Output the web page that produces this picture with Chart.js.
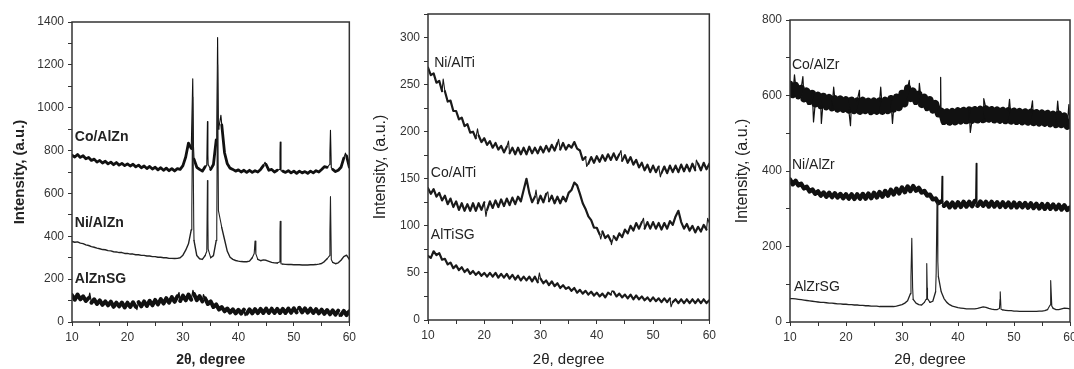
<!DOCTYPE html>
<html>
<head>
<meta charset="utf-8">
<script src="https://cdn.jsdelivr.net/npm/chart.js@4.4.0/dist/chart.umd.min.js"></script>
<style>
  body { margin: 0; background: #fff; width: 1074px; height: 369px; position: relative; overflow: hidden; }
  canvas { position: absolute; top: 0; }
</style>
</head>
<body>
<canvas id="panelZn" width="360" height="369" style="left:0"></canvas>
<canvas id="panelTi" width="360" height="369" style="left:360px"></canvas>
<canvas id="panelZr" width="370" height="369" style="left:714px"></canvas>
<script>
// 2theta grid (degrees), shared by every trace
const twoTheta = [
  10, 10.5, 11, 11.5, 12, 12.5, 13, 13.5, 14, 14.5,
  15, 15.5, 16, 16.5, 17, 17.5, 18, 18.5, 19, 19.5,
  20, 20.5, 21, 21.5, 22, 22.5, 23, 23.5, 24, 24.5,
  25, 25.5, 26, 26.5, 27, 27.5, 28, 28.5, 29, 29.5,
  30, 30.5, 31, 31.5, 32, 32.5, 33, 33.5, 34, 34.5,
  35, 35.5, 36, 36.5, 37, 37.5, 38, 38.5, 39, 39.5,
  40, 40.5, 41, 41.5, 42, 42.5, 43, 43.5, 44, 44.5,
  45, 45.5, 46, 46.5, 47, 47.5, 48, 48.5, 49, 49.5,
  50, 50.5, 51, 51.5, 52, 52.5, 53, 53.5, 54, 54.5,
  55, 55.5, 56, 56.5, 57, 57.5, 58, 58.5, 59, 59.5,
  60
];

// ---- panel 1 : AlZn ----
const coAlZn = [
  778, 770, 782, 768, 776, 762, 768, 754, 760, 746,
  754, 742, 750, 738, 746, 734, 744, 732, 740, 730,
  738, 728, 736, 724, 732, 720, 728, 716, 726, 714,
  722, 710, 720, 708, 718, 706, 716, 705, 716, 712,
  730, 770, 835, 810, 760, 722, 712, 704, 725, 780,
  712, 735, 850, 910, 920, 790, 738, 718, 712, 704,
  710, 700, 708, 698, 708, 698, 706, 700, 712, 730,
  735, 708, 712, 700, 708, 790, 704, 698, 706, 696,
  704, 694, 704, 696, 702, 694, 704, 696, 706, 700,
  712, 725, 722, 790, 712, 702, 708, 722, 765, 775,
  722
];
const coAlZnPeaks = [[31.6, 810], [31.77, 1135], [31.9, 820], [34.3, 730], [34.42, 935], [34.55, 735],
  [36.1, 870], [36.25, 1328], [36.4, 900], [36.85, 965], [44.8, 745],
  [47.4, 712], [47.54, 840], [47.68, 706], [56.45, 735], [56.6, 895], [56.75, 720], [59.3, 788]];

const niAlZn = [
  376, 372, 374, 368, 366, 360, 357, 352, 349, 345,
  342, 338, 337, 333, 332, 328, 327, 324, 324, 320,
  320, 317, 317, 314, 314, 311, 311, 308, 308, 305,
  305, 302, 302, 300, 300, 297, 297, 296, 297, 300,
  312, 335, 365, 430, 380, 310, 295, 292, 310, 480,
  300, 310, 380, 520, 440, 385, 330, 302, 292, 287,
  284, 282, 281, 281, 284, 300, 378, 292, 286, 290,
  288, 283, 278, 276, 275, 420, 270, 269, 268, 268,
  267, 267, 267, 266, 266, 266, 267, 267, 268, 270,
  273, 282, 295, 420, 278, 272, 276, 288, 305, 312,
  292
];
const niAlZnPeaks = [[31.6, 520], [31.77, 1050], [31.95, 450], [34.3, 330], [34.42, 660], [34.55, 340],
  [36.1, 440], [36.25, 1200], [36.4, 520], [36.85, 462], [42.85, 320], [43.15, 318],
  [47.4, 280], [47.54, 470], [47.68, 272], [56.45, 310], [56.6, 585], [56.75, 292]];

const alZnSG = [
  125, 104, 128, 106, 120, 98, 112, 90, 106, 84,
  101, 80, 96, 78, 95, 71, 90, 73, 91, 68,
  90, 70, 92, 71, 93, 73, 96, 75, 99, 78,
  103, 82, 107, 86, 111, 90, 116, 94, 120, 98,
  123, 101, 128, 104, 130, 102, 121, 96, 110, 84,
  96, 70, 82, 58, 70, 50, 63, 44, 59, 40,
  57, 39, 58, 39, 59, 40, 60, 41, 61, 42,
  63, 42, 62, 42, 61, 42, 61, 42, 63, 43,
  64, 45, 66, 45, 64, 44, 62, 42, 60, 40,
  58, 38, 56, 36, 54, 34, 53, 33, 52, 32,
  50
];
const alZnSGSpikes = [[13.2, 135], [21.7, 58], [29.3, 138], [31.8, 148], [33.7, 128], [41.2, 30], [50.8, 72], [58.2, 26]];

// ---- panel 2 : AlTi ----
const niAlTi = [
  268, 260, 262, 252, 254, 243, 243, 232, 233, 222,
  222, 213, 215, 206, 208, 199, 200, 193, 196, 189,
  193, 186, 190, 183, 188, 181, 185, 178, 184, 177,
  183, 176, 183, 176, 183, 176, 184, 177, 183, 177,
  184, 178, 185, 179, 186, 180, 188, 181, 188, 181,
  186, 183, 189, 182, 180, 170, 173, 166, 173, 167,
  174, 168, 175, 169, 176, 170, 177, 170, 176, 169,
  175, 167, 173, 165, 170, 162, 167, 159, 165, 157,
  164, 157, 163, 156, 163, 156, 164, 157, 164, 157,
  165, 158, 165, 158, 166, 159, 166, 159, 167, 160,
  166
];
const niAlTiSpikes = [[12.7, 256], [18.8, 203], [24.3, 190], [33.2, 192], [38.2, 163], [44.3, 180], [51.3, 152], [57.7, 170]];

const coAlTi = [
  140, 134, 139, 131, 135, 127, 132, 123, 129, 120,
  126, 117, 124, 116, 123, 116, 124, 116, 124, 117,
  125, 117, 126, 119, 127, 120, 128, 121, 129, 122,
  130, 123, 131, 126, 138, 150, 135, 125, 131, 124,
  132, 125, 134, 126, 132, 124, 131, 124, 131, 126,
  135, 138, 146, 143, 134, 124, 118, 110, 106, 98,
  98, 91, 94, 87, 90, 84, 89, 85, 92, 88,
  96, 92, 100, 95, 103, 97, 104, 97, 104, 97,
  104, 97, 103, 96, 103, 97, 105, 101, 110, 116,
  104, 97, 102, 95, 100, 93, 99, 94, 101, 96,
  103
];
const coAlTiSpikes = [[20.3, 110], [29.2, 138], [31.3, 136], [40.7, 86], [42.6, 80], [48.3, 108], [59.7, 108]];

const alTiSG = [
  68, 66, 73, 69, 71, 64, 65, 59, 61, 55,
  58, 53, 56, 51, 54, 49, 52, 48, 51, 47,
  50, 46, 50, 46, 50, 45, 49, 45, 49, 44,
  48, 43, 47, 42, 46, 42, 46, 41, 46, 40,
  44, 39, 42, 37, 41, 36, 39, 34, 37, 33,
  35, 31, 34, 29, 32, 28, 31, 27, 30, 26,
  29, 25, 28, 24, 29, 27, 30, 25, 28, 24,
  27, 23, 27, 22, 26, 22, 25, 21, 24, 20,
  24, 20, 23, 19, 23, 19, 23, 19, 22, 18,
  22, 18, 22, 18, 22, 18, 22, 18, 22, 18,
  21
];
const alTiSGSpikes = [[29.8, 50], [42.7, 31], [53.2, 14]];

// ---- panel 3 : AlZr ----
const coAlZr = [
  630, 602, 627, 599, 619, 591, 612, 584, 606, 578,
  601, 573, 598, 570, 595, 567, 592, 564, 591, 563,
  589, 561, 588, 560, 586, 558, 588, 560, 585, 557,
  586, 558, 586, 558, 588, 560, 592, 564, 596, 568,
  606, 578, 620, 592, 612, 584, 604, 576, 596, 568,
  589, 561, 579, 551, 559, 531, 557, 529, 558, 530,
  560, 532, 561, 533, 562, 534, 563, 535, 564, 536,
  565, 537, 563, 535, 562, 534, 561, 533, 560, 532,
  559, 531, 558, 530, 557, 529, 556, 528, 555, 527,
  554, 526, 553, 525, 551, 523, 551, 523, 546, 518,
  520
];
const coAlZrPeaks = [[10.8, 655], [12.3, 650], [14.2, 530], [15.6, 526], [17.8, 622], [20.8, 520],
  [22.4, 614], [26.2, 622], [28.3, 526], [31.3, 640], [33.1, 632], [36.8, 555], [36.9, 648],
  [36.97, 545], [42.2, 502], [44.6, 592], [49.2, 590], [53.3, 586], [57.8, 585], [59.8, 576]];

const niAlZr = [
  377, 365, 374, 362, 366, 354, 358, 346, 351, 340,
  346, 335, 343, 332, 342, 331, 341, 330, 339, 328,
  338, 327, 338, 326, 338, 327, 339, 327, 340, 328,
  342, 330, 344, 332, 347, 335, 350, 338, 353, 341,
  356, 344, 359, 347, 360, 348, 355, 343, 347, 335,
  337, 325, 327, 315, 319, 308, 316, 304, 316, 304,
  317, 305, 318, 306, 318, 307, 320, 308, 319, 308,
  318, 306, 318, 306, 317, 305, 317, 305, 316, 304,
  316, 304, 315, 304, 315, 303, 314, 302, 313, 301,
  312, 300, 312, 300, 311, 299, 310, 298, 309, 297,
  303
];
const niAlZrPeaks = [[37.05, 316], [37.15, 386], [37.28, 308], [43.15, 318], [43.25, 420], [43.38, 308]];

const alZrSG = [
  62, 62, 61, 60, 59, 58, 57, 56, 55, 54,
  53, 52, 52, 51, 50, 50, 49, 48, 48, 47,
  47, 46, 46, 45, 45, 44, 44, 43, 43, 42,
  42, 42, 41, 41, 41, 41, 41, 41, 42, 44,
  46, 50, 56, 75, 60, 50, 46, 45, 52, 90,
  52, 55, 80, 120, 80, 62, 52, 46, 42, 40,
  38, 37, 36, 35, 35, 35, 35, 36, 38, 40,
  39, 36, 34, 33, 33, 60, 32, 31, 30, 30,
  29, 29, 28, 28, 28, 28, 28, 28, 28, 29,
  29, 30, 33, 70, 36, 33, 33, 35, 37, 36,
  35
];
const alZrSGPeaks = [[31.6, 120], [31.75, 222], [31.9, 90], [34.3, 60], [34.42, 155], [34.55, 62],
  [36.1, 130], [36.25, 315], [36.4, 160], [47.4, 36], [47.54, 80], [47.68, 34],
  [56.45, 45], [56.6, 110], [56.75, 42]];

const FONT = "'Liberation Sans', Arial, sans-serif";

function merge(bg, peaks) {
  const pts = twoTheta.map((x, i) => ({ x: x, y: bg[i] }));
  (peaks || []).forEach(p => pts.push({ x: p[0], y: p[1] }));
  return pts.sort((a, b) => a.x - b.x);
}

const frame = {
  id: 'frame',
  afterDraw(chart) {
    const { ctx, chartArea: a } = chart;
    ctx.save();
    ctx.strokeStyle = '#333';
    ctx.lineWidth = 1.5;
    ctx.strokeRect(a.left, a.top, a.right - a.left, a.bottom - a.top);
    ctx.restore();
  }
};

const seriesLabels = {
  id: 'seriesLabels',
  afterDraw(chart, args, opts) {
    const { ctx, scales } = chart;
    ctx.save();
    ctx.font = opts.font;
    ctx.fillStyle = '#222';
    ctx.textBaseline = 'middle';
    opts.items.forEach(it => {
      ctx.fillText(it.text, scales.x.getPixelForValue(it.x), scales.y.getPixelForValue(it.y));
    });
    ctx.restore();
  }
};

function panel(id, p) {
  new Chart(document.getElementById(id), {
    type: 'scatter',
    data: {
      datasets: p.series.map(s => {
        // sharp reflections and spikes are drawn thin, the noisy background thick
        const thin = new Set((s.peaks || []).map(q => q[0]));
        return {
          data: merge(s.data, s.peaks),
          showLine: true,
          borderColor: s.color,
          borderWidth: s.width,
          borderJoinStyle: 'round',
          borderCapStyle: 'round',
          pointRadius: 0,
          tension: 0,
          segment: {
            borderWidth: c => (thin.has(c.p0.parsed.x) || thin.has(c.p1.parsed.x)) ? (s.thin || s.width) : s.width
          }
        };
      })
    },
    options: {
      responsive: false,
      animation: false,
      events: [],
      layout: { padding: { top: p.top, right: p.right, left: 0, bottom: 0 } },
      plugins: {
        legend: { display: false },
        tooltip: { enabled: false },
        seriesLabels: { font: p.labelFont, items: p.labels }
      },
      scales: {
        x: {
          type: 'linear', min: 10, max: 60,
          ticks: {
            stepSize: 5, autoSkip: false, maxRotation: 0, padding: 4,
            color: '#333', font: { family: FONT, size: 12 },
            callback: v => (v % 10 === 0 ? v : '')
          },
          grid: { drawOnChartArea: false, tickLength: 4, color: '#333' },
          border: { display: false },
          title: { display: true, text: '2θ, degree', color: '#222', padding: 0,
                   font: { family: FONT, size: p.xTitleSize, weight: p.weight } },
          afterFit: s => { s.height = p.xh; }
        },
        y: {
          min: 0, max: p.ymax,
          ticks: {
            stepSize: p.minor, autoSkip: false, padding: 4,
            color: '#333', font: { family: FONT, size: 12 },
            callback: v => (v % p.major === 0 && v <= p.lastLabel ? v : '')
          },
          grid: { drawOnChartArea: false, tickLength: 4, color: '#333' },
          border: { display: false },
          title: { display: true, text: 'Intensity, (a.u.)', color: '#222',
                   padding: { top: p.ytPad, bottom: 0 },
                   font: { family: FONT, size: p.yTitleSize, weight: p.weight } },
          afterFit: s => { s.width = p.yw; }
        }
      }
    },
    plugins: [frame, seriesLabels]
  });
}

panel('panelZn', {
  top: 22, right: 8, xh: 47, yw: 72, ytPad: 11,
  ymax: 1400, minor: 100, major: 200, lastLabel: 1400,
  weight: 'bold', xTitleSize: 14, yTitleSize: 15,
  labelFont: 'bold 14px ' + FONT,
  labels: [
    { text: 'Co/AlZn', x: 10.5, y: 863 },
    { text: 'Ni/AlZn', x: 10.5, y: 462 },
    { text: 'AlZnSG', x: 10.5, y: 200 }
  ],
  series: [
    { data: alZnSG, peaks: alZnSGSpikes, color: '#111', width: 4, thin: 1.2 },
    { data: niAlZn, peaks: niAlZnPeaks, color: '#222', width: 1.4, thin: 1.1 },
    { data: coAlZn, peaks: coAlZnPeaks, color: '#111', width: 2.8, thin: 1.1 }
  ]
});

panel('panelTi', {
  top: 14, right: 7, xh: 49, yw: 68, ytPad: 11,
  ymax: 325, minor: 25, major: 50, lastLabel: 300,
  weight: 'normal', xTitleSize: 15, yTitleSize: 16,
  labelFont: '14px ' + FONT,
  labels: [
    { text: 'Ni/AlTi', x: 11.1, y: 273 },
    { text: 'Co/AlTi', x: 10.5, y: 156 },
    { text: 'AlTiSG', x: 10.5, y: 90 }
  ],
  series: [
    { data: alTiSG, peaks: alTiSGSpikes, color: '#1a1a1a', width: 2.2, thin: 1.1 },
    { data: coAlTi, peaks: coAlTiSpikes, color: '#1a1a1a', width: 2.2, thin: 1.1 },
    { data: niAlTi, peaks: niAlTiSpikes, color: '#1a1a1a', width: 2.2, thin: 1.1 }
  ]
});

panel('panelZr', {
  top: 20, right: 14, xh: 47, yw: 76, ytPad: 19,
  ymax: 800, minor: 100, major: 200, lastLabel: 800,
  weight: 'normal', xTitleSize: 15, yTitleSize: 16,
  labelFont: '14px ' + FONT,
  labels: [
    { text: 'Co/AlZr', x: 10.35, y: 681 },
    { text: 'Ni/AlZr', x: 10.35, y: 416 },
    { text: 'AlZrSG', x: 10.7, y: 93 }
  ],
  series: [
    { data: alZrSG, peaks: alZrSGPeaks, color: '#222', width: 1.3, thin: 1.1 },
    { data: niAlZr, peaks: niAlZrPeaks, color: '#111', width: 4.5, thin: 1.2 },
    { data: coAlZr, peaks: coAlZrPeaks, color: '#111', width: 7, thin: 1.2 }
  ]
});
</script>
</body>
</html>
